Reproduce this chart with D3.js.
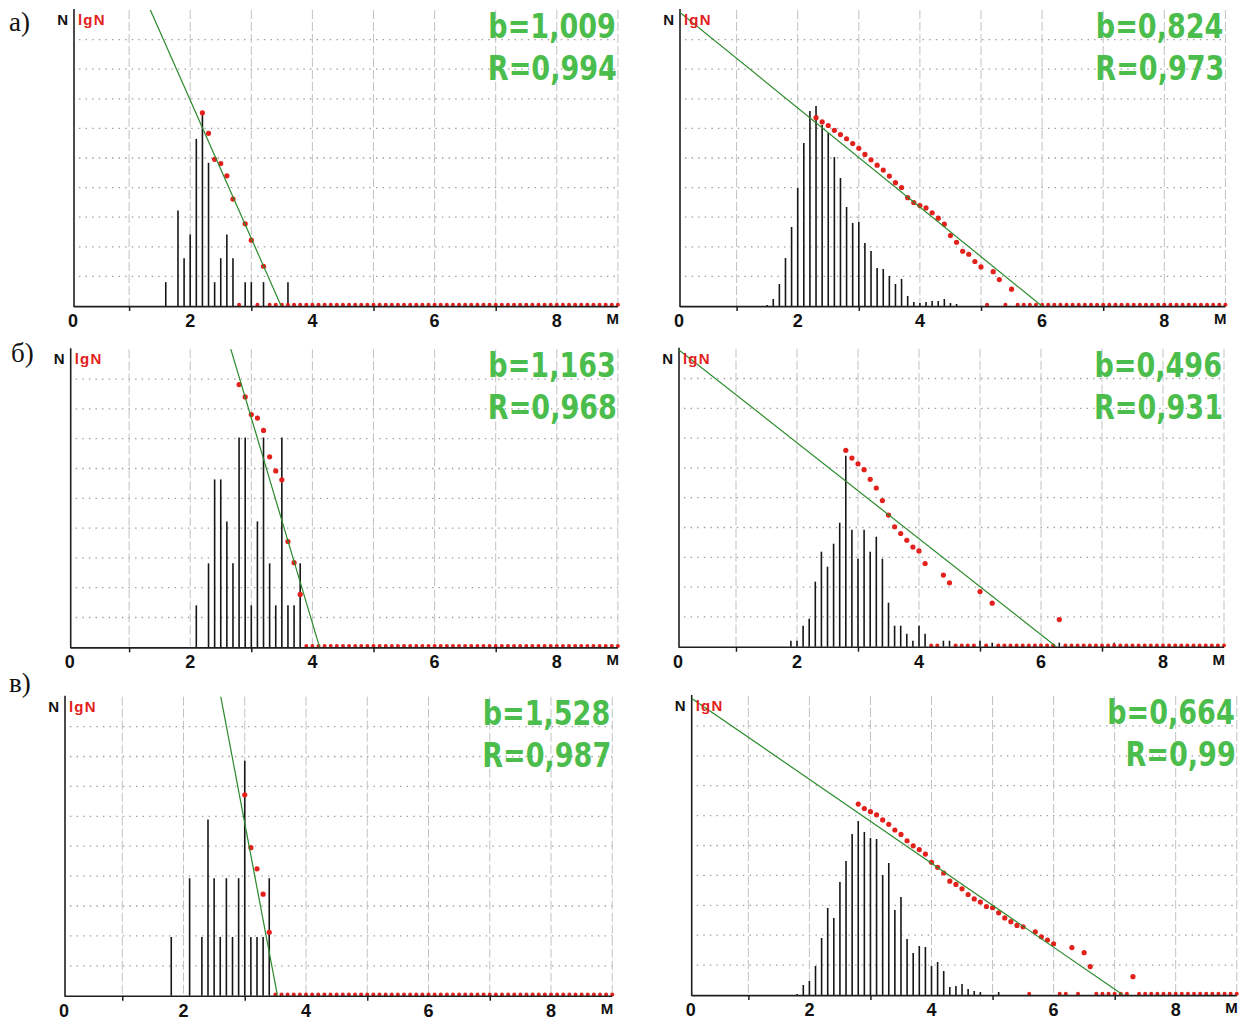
<!DOCTYPE html>
<html>
<head>
<meta charset="utf-8">
<script src="https://cdn.jsdelivr.net/npm/d3@7"></script>
<style>
  body { margin: 0; background: #fff; }
  svg { display: block; }
</style>
</head>
<body>
<svg id="chart" width="1249" height="1021"></svg>
<script>
// ---------- data ----------
const rowLabels = ["а)", "б)", "в)"];
const xTickLabels = ["0", "2", "4", "6", "8"];
const xTickValues = [0, 2, 4, 6, 8];
const bTexts = ["b=1,009", "b=0,824", "b=1,163", "b=0,496", "b=1,528", "b=0,664"];
const rTexts = ["R=0,994", "R=0,973", "R=0,968", "R=0,931", "R=0,987", "R=0,99"];
// Gutenberg–Richter fit: lgN = a - b*M
const fitB = [1.009, 0.824, 1.163, 0.496, 1.528, 0.664];
const fitA = [3.52, 4.94, 4.79, 3.10, 5.40, 4.74];

// magnitude histograms (M, number of events)
const barsM_a1 = [1.6, 1.8, 1.9, 2.0, 2.1, 2.2, 2.3, 2.4, 2.5, 2.6, 2.7, 2.9, 3.0, 3.2, 3.6];
const barsN_a1 = [1, 4, 2, 3, 7, 8, 6, 1, 2, 3, 2, 1, 1, 1, 1];

const barsM_a2 = [1.5, 1.6, 1.7, 1.8, 1.9, 2.0, 2.1, 2.2, 2.3, 2.4, 2.5, 2.6, 2.7, 2.8, 2.9, 3.0, 3.1, 3.2,
                  3.3, 3.4, 3.5, 3.6, 3.7, 3.8, 3.9, 4.0, 4.1, 4.2, 4.3, 4.4, 4.5, 4.6];
const barsN_a2 = [1, 7, 22, 48, 79, 118, 163, 195, 200, 181, 173, 149, 128, 99, 83, 84, 63, 55,
                  38, 37, 30, 22, 27, 10, 4, 3, 4, 5, 5, 7, 3, 2];

const barsM_b1 = [2.1, 2.3, 2.4, 2.5, 2.6, 2.7, 2.8, 2.9, 3.0, 3.1, 3.2, 3.3, 3.4, 3.5, 3.6, 3.7, 3.8];
const barsN_b1 = [1, 2, 4, 4, 3, 2, 5, 5, 1, 3, 5, 2, 1, 5, 1, 1, 2];

const barsM_b2 = [1.9, 2.0, 2.1, 2.2, 2.3, 2.4, 2.5, 2.6, 2.7, 2.8, 2.9, 3.0, 3.1, 3.2, 3.3, 3.4, 3.5,
                  3.6, 3.7, 3.8, 3.9, 4.0, 4.1, 4.4, 4.5, 5.0, 5.2, 6.3, 7.2];
const barsN_b2 = [6, 6, 21, 28, 65, 95, 80, 103, 124, 191, 117, 88, 117, 95, 110, 88, 44,
                  21, 21, 13, 6, 21, 13, 6, 6, 6, 4, 4, 4];

const barsM_c1 = [1.8, 2.1, 2.3, 2.4, 2.5, 2.6, 2.7, 2.8, 2.9, 3.0, 3.1, 3.2, 3.3, 3.4];
const barsN_c1 = [1, 2, 1, 3, 2, 1, 2, 1, 2, 4, 1, 1, 1, 2];

const barsM_c2 = [1.8, 1.9, 2.0, 2.1, 2.2, 2.3, 2.4, 2.5, 2.6, 2.7, 2.8, 2.9, 3.0, 3.1, 3.2, 3.3, 3.4,
                  3.5, 3.6, 3.7, 3.8, 3.9, 4.0, 4.1, 4.2, 4.3, 4.4, 4.5, 4.6, 4.7, 4.8, 5.1];
const barsN_c2 = [1, 10, 14, 29, 57, 87, 77, 113, 134, 161, 174, 163, 157, 156, 120, 132, 85,
                  98, 56, 42, 49, 48, 29, 33, 24, 8, 9, 11, 6, 4, 3, 3];

// cumulative lgN, one value per 0.1 magnitude bin from the start magnitude up to M = 9.0
const lgStart = [2.2, 2.3, 2.8, 2.8, 3.0, 2.8];
const lgN_a1 = [1.41, 1.26, 1.07, 1.04, 0.95, 0.78, 0, 0.60, 0.48, 0, 0.29,
  0, 0, 0, 0, 0, 0, 0, 0, 0, 0,
  0, 0, 0, 0, 0, 0, 0, 0, 0, 0,
  0, 0, 0, 0, 0, 0, 0, 0, 0, 0,
  0, 0, 0, 0, 0, 0, 0, 0, 0, 0,
  0, 0, 0, 0, 0, 0, 0, 0, 0, 0,
  0, 0, 0, 0, 0, 0, 0, 0];
const lgN_a2 = [3.13, 3.06, 3.00, 2.92, 2.85, 2.78, 2.70, 2.62, 2.52, 2.43,
  2.34, 2.26, 2.16, 2.05, 1.97, 1.80, 1.72, 1.67, 1.63, 1.55,
  1.46, 1.36, 1.17, 1.06, 0.91, 0.86, 0.74, 0.65, 0, 0.57,
  0.44, 0, 0.28,
  0, 0, 0, 0, 0, 0, 0, 0, 0, 0,
  0, 0, 0, 0, 0, 0, 0, 0, 0, 0,
  0, 0, 0, 0, 0, 0, 0, 0, 0, 0,
  0, 0, 0, 0, 0];
const lgN_b1 = [1.49, 1.42, 1.32, 1.30, 1.23, 1.08, 1.00, 0.95, 0.60, 0.48, 0.30,
  0, 0, 0, 0, 0, 0, 0, 0, 0, 0,
  0, 0, 0, 0, 0, 0, 0, 0, 0, 0,
  0, 0, 0, 0, 0, 0, 0, 0, 0, 0,
  0, 0, 0, 0, 0, 0, 0, 0, 0, 0,
  0, 0, 0, 0, 0, 0, 0, 0, 0, 0,
  0, 0];
const lgN_b2 = [2.03, 1.95, 1.89, 1.83, 1.73, 1.64, 1.51, 1.36, 1.24, 1.17,
  1.10, 1.03, 0.99, 0.86, 0, 0, 0.74, 0.66, 0, 0,
  0, 0, 0.57, 0, 0.45, 0, 0, 0, 0, 0,
  0, 0, 0, 0, 0, 0.28,
  0, 0, 0, 0, 0, 0, 0, 0, 0, 0,
  0, 0, 0, 0, 0, 0, 0, 0, 0, 0,
  0, 0, 0, 0, 0, 0, 0];
const lgN_c1 = [0.95, 0.70, 0.60, 0.48, 0.30,
  0, 0, 0, 0, 0, 0, 0, 0, 0, 0,
  0, 0, 0, 0, 0, 0, 0, 0, 0, 0,
  0, 0, 0, 0, 0, 0, 0, 0, 0, 0,
  0, 0, 0, 0, 0, 0, 0, 0, 0, 0,
  0, 0, 0, 0, 0, 0, 0, 0, 0, 0,
  0, 0, 0, 0, 0, 0];
const lgN_c2 = [3.02, 2.95, 2.90, 2.85, 2.77, 2.70, 2.61, 2.54, 2.44, 2.36,
  2.30, 2.23, 2.10, 2.02, 1.93, 1.80, 1.75, 1.68, 1.59, 1.52,
  1.47, 1.40, 1.38, 1.30, 1.22, 1.16, 1.10, 1.08, 0, 1.00,
  0.92, 0.87, 0.81, 0, 0, 0.75, 0, 0.67, 0.45, 0,
  0, 0, 0, 0, 0, 0.29,
  0, 0, 0, 0, 0, 0, 0, 0, 0, 0,
  0, 0, 0, 0, 0, 0, 0];

const barsM = [barsM_a1, barsM_a2, barsM_b1, barsM_b2, barsM_c1, barsM_c2];
const barsN = [barsN_a1, barsN_a2, barsN_b1, barsN_b2, barsN_c1, barsN_c2];
const lgN = [lgN_a1, lgN_a2, lgN_b1, lgN_b2, lgN_c1, lgN_c2];

// ---------- layout of the six panels ----------
const layout = [
  { m0: 68,    unit: 61.1,  axisX: 74,    base: 306,   h: 296, lgMax: 2.16, nMax: 12.4 },
  { m0: 675.5, unit: 61.1,  axisX: 680,   base: 306,   h: 296, lgMax: 4.92, nMax: 296 },
  { m0: 68,    unit: 61.1,  axisX: 70.7,  base: 647.3, h: 298, lgMax: 1.69, nMax: 7.1 },
  { m0: 675,   unit: 61.0,  axisX: 679,   base: 646.7, h: 298, lgMax: 3.08, nMax: 298 },
  { m0: 61,    unit: 61.25, axisX: 65,    base: 995.7, h: 299, lgMax: 1.414, nMax: 5.09 },
  { m0: 687.3, unit: 61.05, axisX: 691.7, base: 995,   h: 299, lgMax: 4.73, nMax: 299 }
];
const rowLabelPos = [[9, 31], [11, 362], [9, 692]];

const GREEN_TXT = "#4bbd4d";
const RED = "#e3211c";
const svg = d3.select("#chart");

// row letters
svg.selectAll("text.row").data(rowLabels).join("text")
  .attr("class", "row")
  .attr("x", (d, i) => rowLabelPos[i][0])
  .attr("y", (d, i) => rowLabelPos[i][1])
  .attr("font-family", "'Liberation Serif', 'Times New Roman', serif")
  .attr("font-size", 27)
  .attr("fill", "#111")
  .text(d => d);

layout.forEach((L, i) => {
  const x = d3.scaleLinear().domain([0, 9]).range([L.m0, L.m0 + 9 * L.unit]);
  const top = L.base - L.h;
  const yLg = d3.scaleLinear().domain([0, L.lgMax]).range([L.base, top]);
  const yN = d3.scaleLinear().domain([0, L.nMax]).range([L.base, top]);
  const right = x(9);
  const g = svg.append("g").attr("class", "panel panel-" + i);

  // horizontal dotted grid
  const gridFrac = d3.range(1, 10).map(k => k / 10);
  g.append("g").selectAll("line").data(gridFrac).join("line")
    .attr("x1", L.axisX + 5).attr("x2", right)
    .attr("y1", f => yLg(f * L.lgMax)).attr("y2", f => yLg(f * L.lgMax))
    .attr("stroke", "#9c9c9c").attr("stroke-width", 1.3)
    .attr("stroke-dasharray", "1.4,5.2");

  // vertical dashed grid
  g.append("g").selectAll("line").data(d3.range(1, 10)).join("line")
    .attr("x1", m => x(m)).attr("x2", m => x(m))
    .attr("y1", top).attr("y2", L.base)
    .attr("stroke", "#c2c2c2").attr("stroke-width", 1)
    .attr("stroke-dasharray", "9,3");

  // histogram bars
  const bars = barsM[i].map((m, j) => ({ m, n: barsN[i][j] }));
  g.append("g").selectAll("line").data(bars).join("line")
    .attr("x1", d => x(d.m)).attr("x2", d => x(d.m))
    .attr("y1", yN(0)).attr("y2", d => yN(d.n))
    .attr("stroke", "#161616").attr("stroke-width", 1.6);

  // cumulative lgN points
  const pts = lgN[i].map((v, j) => ({ m: Math.round((lgStart[i] + j * 0.1) * 10) / 10, v }));
  g.append("g").selectAll("circle").data(pts).join("circle")
    .attr("cx", d => x(d.m))
    .attr("cy", d => d.v > 0 ? yLg(d.v) : yLg(0) - 1.3)
    .attr("r", d => d.v > 0 ? 2.6 : 2.0)
    .attr("fill", RED);

  // axes lines
  g.append("line")
    .attr("x1", L.axisX).attr("x2", L.axisX)
    .attr("y1", top - 1).attr("y2", L.base + 1)
    .attr("stroke", "#1e1e1e").attr("stroke-width", 1.6);
  g.append("line")
    .attr("x1", L.axisX).attr("x2", right)
    .attr("y1", L.base + 0.6).attr("y2", L.base + 0.6)
    .attr("stroke", "#1e1e1e").attr("stroke-width", 1.6);

  // regression line, clipped to the plot area
  const clipId = "clip" + i;
  svg.append("clipPath").attr("id", clipId).append("rect")
    .attr("x", L.axisX).attr("y", top).attr("width", right - L.axisX).attr("height", L.h);
  const fit = [[0, fitA[i]], [fitA[i] / fitB[i], 0]];
  g.append("path")
    .attr("clip-path", `url(#${clipId})`)
    .attr("d", d3.line().x(d => x(d[0])).y(d => yLg(d[1]))(fit))
    .attr("fill", "none").attr("stroke", "#2b8a2b").attr("stroke-width", 1.2);

  // small ticks at odd magnitudes
  const tickAxis = d3.axisBottom(x).tickValues([1, 3, 5, 7]).tickSize(5).tickFormat("");
  const ta = g.append("g").attr("transform", `translate(0,${L.base})`).call(tickAxis);
  ta.select(".domain").remove();
  ta.selectAll(".tick line").attr("stroke", "#1e1e1e").attr("stroke-width", 1.5);

  // magnitude labels
  g.append("g").selectAll("text").data(xTickValues).join("text")
    .attr("x", (m, j) => m === 0 ? L.axisX - 1 : x(m))
    .attr("y", L.base + 21)
    .attr("text-anchor", "middle")
    .attr("font-family", "'Liberation Sans', Arial, sans-serif")
    .attr("font-weight", "bold").attr("font-size", 18)
    .attr("fill", "#111")
    .text((m, j) => xTickLabels[j]);
  g.append("text")
    .attr("x", right + 1).attr("y", L.base + 18)
    .attr("text-anchor", "end")
    .attr("font-family", "'Liberation Sans', Arial, sans-serif")
    .attr("font-weight", "bold").attr("font-size", 15)
    .attr("fill", "#111").text("M");

  // axis captions
  g.append("text")
    .attr("x", L.axisX - 6).attr("y", top + 15)
    .attr("text-anchor", "end")
    .attr("font-family", "'Liberation Sans', Arial, sans-serif")
    .attr("font-weight", "bold").attr("font-size", 15)
    .attr("fill", "#111").text("N");
  g.append("text")
    .attr("x", L.axisX + 4).attr("y", top + 15)
    .attr("font-family", "'Liberation Sans', Arial, sans-serif")
    .attr("font-weight", "bold").attr("font-size", 15)
    .attr("letter-spacing", 1.2)
    .attr("fill", RED).text("lgN");

  // fit statistics (tall, condensed lettering)
  const stat = g.append("g")
    .attr("font-family", "'DejaVu Sans', 'Liberation Sans', sans-serif")
    .attr("font-weight", "bold").attr("font-size", 33)
    .attr("fill", GREEN_TXT).attr("text-anchor", "end");
  stat.append("text")
    .attr("transform", `translate(${right - 2},${top + 28}) scale(0.82,1)`)
    .text(bTexts[i]);
  stat.append("text")
    .attr("transform", `translate(${right - 1},${top + 70}) scale(0.82,1)`)
    .text(rTexts[i]);
});
</script>
</body>
</html>
